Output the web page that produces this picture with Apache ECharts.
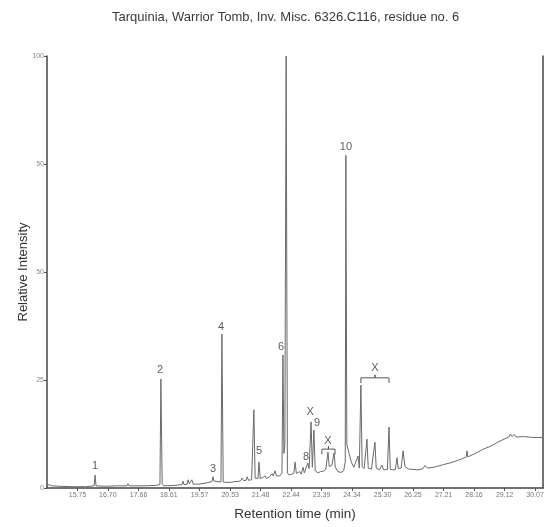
<!DOCTYPE html>
<html>
<head>
<meta charset="utf-8">
<script src="https://cdn.jsdelivr.net/npm/echarts@6/dist/echarts.min.js"></script>
<style>
html, body { margin: 0; padding: 0; background: #fff; }
#main { width: 552px; height: 527px; }
</style>
</head>
<body>
<div id="main"></div>
<script>
// 色谱图数据 (保留时间 min, 相对强度 %)
var retentionTime = [
    14.80, 14.85, 14.89, 14.95, 15.20, 15.60, 16.00, 16.27, 16.30, 16.33,
    16.60, 17.00, 17.30, 17.33, 17.36, 17.80, 18.20, 18.33, 18.36, 18.40,
    18.45, 18.80, 19.02, 19.05, 19.08, 19.18, 19.21, 19.25, 19.30, 19.33,
    19.37, 19.55, 19.80, 19.96, 19.99, 20.02, 20.08, 20.12, 20.24, 20.27,
    20.31, 20.40, 20.55, 20.68, 20.74, 20.78, 20.86, 20.90, 20.95, 21.03,
    21.06, 21.10, 21.20, 21.24, 21.27, 21.31, 21.36, 21.40, 21.43, 21.47,
    21.55, 21.62, 21.66, 21.76, 21.84, 21.88, 21.93, 21.98, 22.08, 22.15,
    22.18, 22.21, 22.24, 22.28, 22.32, 22.37, 22.45, 22.52, 22.56, 22.60,
    22.66, 22.71, 22.75, 22.81, 22.85, 22.90, 22.96, 23.00, 23.06, 23.10,
    23.15, 23.19, 23.28, 23.36, 23.40, 23.45, 23.52, 23.59, 23.63, 23.68,
    23.71, 23.78, 23.82, 23.90, 24.00, 24.08, 24.13, 24.15, 24.18, 24.25,
    24.32, 24.40, 24.46, 24.53, 24.57, 24.60, 24.62, 24.66, 24.72, 24.78,
    24.81, 24.85, 24.95, 25.00, 25.06, 25.10, 25.20, 25.28, 25.33, 25.45,
    25.50, 25.54, 25.62, 25.70, 25.75, 25.79, 25.88, 25.94, 26.00, 26.10,
    26.38, 26.55, 26.63, 26.70, 26.90, 27.20, 27.50, 27.80, 27.92, 27.94,
    27.97, 28.20, 28.45, 28.66, 28.90, 29.10, 29.25, 29.30, 29.35, 29.42,
    29.48, 29.70, 30.00, 30.32
];
var intensity = [
    0.3, 0.8, 1.0, 0.5, 0.4, 0.3, 0.3, 0.5, 3.0, 0.5,
    0.4, 0.5, 0.5, 1.0, 0.5, 0.5, 0.6, 0.8, 25.2, 1.0,
    0.5, 0.6, 0.8, 1.6, 0.8, 0.9, 1.9, 1.0, 1.0, 1.9,
    0.9, 0.9, 1.2, 1.5, 2.6, 1.6, 1.8, 1.5, 1.4, 35.6,
    1.4, 1.3, 1.3, 1.5, 1.9, 1.5, 1.7, 2.3, 1.7, 1.8,
    2.6, 1.8, 1.9, 2.1, 18.1, 2.3, 2.6, 2.2, 6.0, 2.2,
    2.4, 2.8, 2.2, 2.6, 3.3, 2.8, 4.0, 2.8, 2.8, 3.5,
    30.8, 8.0, 10.0, 100, 3.5, 3.0, 3.2, 3.4, 6.0, 3.4,
    3.3, 3.8, 3.2, 4.8, 3.5, 3.8, 5.8, 4.5, 15.3, 4.8,
    13.4, 4.0, 3.5, 3.8, 4.2, 3.9, 4.3, 8.3, 5.0, 4.6,
    5.2, 8.1, 4.8, 3.8, 3.6, 4.0, 6.0, 77.0, 10.0, 8.0,
    6.0, 4.8, 4.6, 7.4, 4.6, 5.0, 23.8, 5.0, 4.5, 4.6,
    11.3, 4.6, 4.4, 4.6, 10.6, 4.6, 4.2, 5.3, 4.2, 4.3,
    14.1, 4.3, 4.2, 4.3, 7.0, 4.5, 4.6, 8.6, 5.0, 4.4,
    4.2, 4.4, 5.2, 4.6, 4.8, 5.4, 6.0, 6.8, 7.2, 8.6,
    7.2, 8.0, 9.0, 9.6, 10.6, 11.3, 11.8, 12.5, 11.9, 12.4,
    11.8, 11.9, 11.7, 11.7
];

// 峰标注
var peakNames  = ['1', '2', '3', '4', '5', '6', '7', '8', 'X', '9', 'X', '10', 'X'];
var peakTimes  = [16.30, 18.33, 19.99, 20.24, 21.43, 22.12, 22.25, 22.90, 23.03, 23.25, 23.59, 24.15, 25.06];
var peakLabelY = [5.1, 27.3, 4.4, 37.3, 8.6, 32.6, 101.9, 7.2, 17.6, 15.0, 10.9, 78.9, 27.8];

// 括号 [起点, 终点, 高度]
var brackets = [
    [23.40, 23.81, 9.0],
    [24.62, 25.50, 25.5]
];

// 坐标轴刻度
var xTicks = [15.75, 16.70, 17.66, 18.61, 19.57, 20.53, 21.48, 22.44, 23.39, 24.34, 25.30, 26.25, 27.21, 28.16, 29.12, 30.07];
var yTicks = [0, 25, 50, 75, 100];
var yTickText = ['0', '25', '50', '50', '100'];

var font = 'Liberation Sans, Arial, sans-serif';

function buildTrace() {
    var res = [];
    for (var i = 0; i < retentionTime.length; i++) {
        res.push([retentionTime[i], intensity[i]]);
    }
    return res;
}

function buildLabels() {
    var res = [];
    for (var i = 0; i < peakNames.length; i++) {
        res.push({ name: peakNames[i], value: [peakTimes[i], peakLabelY[i]] });
    }
    return res;
}

function bracketSeries(b) {
    var mid = (b[0] + b[1]) / 2;
    return {
        type: 'line',
        symbol: 'none',
        silent: true,
        lineStyle: { color: '#555', width: 1 },
        data: [
            [b[0], b[2] - 1.2], [b[0], b[2]], [mid, b[2]], [mid, b[2] + 0.7],
            [mid, b[2]], [b[1], b[2]], [b[1], b[2] - 1.2]
        ]
    };
}

var myChart = echarts.init(document.getElementById('main'));
var series = [
    {
        name: 'TIC',
        type: 'line',
        symbol: 'none',
        lineStyle: { color: '#6a6a6a', width: 1 },
        data: buildTrace()
    },
    {
        type: 'scatter',
        symbolSize: 0,
        silent: true,
        label: {
            show: true,
            position: 'inside',
            formatter: '{b}',
            fontFamily: font,
            fontSize: 11,
            color: '#333'
        },
        data: buildLabels()
    }
];
for (var k = 0; k < brackets.length; k++) {
    series.push(bracketSeries(brackets[k]));
}

var option = {
    animation: false,
    title: {
        text: 'Tarquinia, Warrior Tomb, Inv. Misc. 6326.C116, residue no. 6',
        left: 107,
        top: 6,
        textStyle: { fontFamily: font, fontSize: 13, fontWeight: 'normal', color: '#3a3a3a' }
    },
    grid: { left: 47, right: 9, top: 56, bottom: 39 },
    xAxis: {
        type: 'value',
        min: 14.795,
        max: 30.32,
        name: 'Retention time (min)',
        nameLocation: 'middle',
        nameGap: 19,
        nameMoveOverlap: false,
        nameTextStyle: { fontFamily: font, fontSize: 13.5, color: '#333' },
        axisLine: { lineStyle: { color: '#444', width: 1.5 } },
        axisTick: { customValues: xTicks, length: 3, lineStyle: { color: '#555' } },
        axisLabel: {
            customValues: xTicks,
            margin: 4,
            fontFamily: font,
            fontSize: 7,
            color: '#777',
            formatter: function (v) { return v.toFixed(2); }
        },
        splitLine: { show: false }
    },
    yAxis: [
        {
            type: 'value',
            min: 0,
            max: 100,
            name: 'Relative Intensity',
            nameLocation: 'middle',
            nameGap: 17,
            nameMoveOverlap: false,
            nameTextStyle: { fontFamily: font, fontSize: 13, color: '#333' },
            axisLine: { show: true, lineStyle: { color: '#444', width: 1.5 } },
            axisTick: { show: true, customValues: yTicks, length: 3, lineStyle: { color: '#555' } },
            axisLabel: {
                customValues: yTicks,
                margin: 3,
                fontFamily: font,
                fontSize: 7,
                color: '#888',
                formatter: function (v) {
                    var i = yTicks.indexOf(v);
                    return i >= 0 ? yTickText[i] : '';
                }
            },
            splitLine: { show: false }
        },
        {
            type: 'value',
            min: 0,
            max: 100,
            position: 'right',
            axisLine: { show: true, lineStyle: { color: '#444', width: 1.5 } },
            axisTick: { show: false },
            axisLabel: { show: false },
            splitLine: { show: false }
        }
    ],
    series: series
};
myChart.setOption(option);
</script>
</body>
</html>
